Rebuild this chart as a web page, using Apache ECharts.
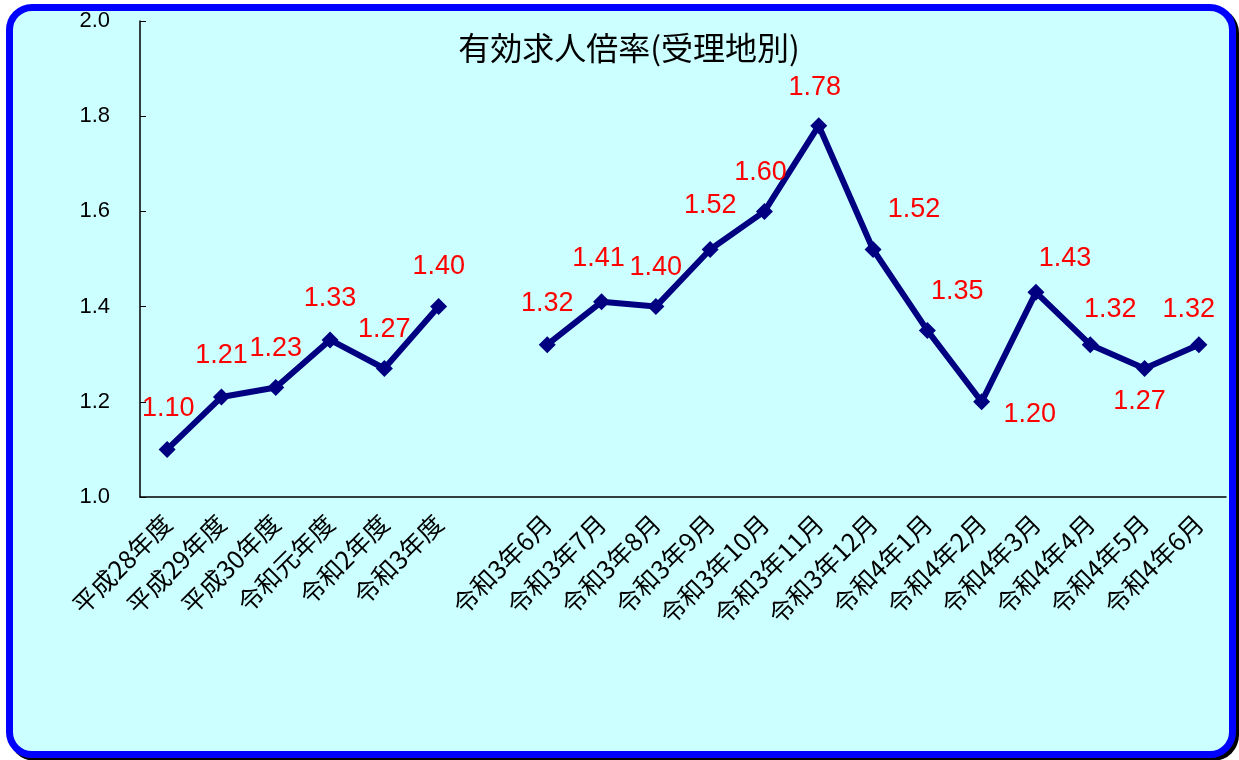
<!DOCTYPE html>
<html><head><meta charset="utf-8">
<script src="https://cdn.jsdelivr.net/npm/echarts@6/dist/echarts.min.js"></script>
<style>
html,body{margin:0;padding:0;background:#fff;}
#frame{position:absolute;left:6px;top:4px;width:1216px;height:740px;border:7px solid #0000FF;border-radius:26px;background:#CCFFFF;box-shadow:3px 3px 0 #000;}
#chart{position:absolute;left:0;top:0;width:1239px;height:760px;}
</style></head>
<body>
<div id="frame"></div>
<div id="chart"></div>
<script>
var title = '有効求人倍率(受理地別)';
var categories = ['平成28年度','平成29年度','平成30年度','令和元年度','令和2年度','令和3年度','',
  '令和3年6月','令和3年7月','令和3年8月','令和3年9月','令和3年10月','令和3年11月','令和3年12月',
  '令和4年1月','令和4年2月','令和4年3月','令和4年4月','令和4年5月','令和4年6月'];
var values = [1.10,1.21,1.23,1.33,1.27,1.40,null,1.32,1.41,1.40,1.52,1.60,1.78,1.52,1.35,1.20,1.43,1.32,1.27,1.32];
var yTicks = [1.0,1.2,1.4,1.6,1.8,2.0];
var labelOffsets = [[1,-41],[0,-41],[0,-39],[0,-41],[0,-39],[0,-40],[0,0],[0,-41],[-3,-43],[0,-39],[0,-44],[-4,-39],[-4,-38],[41,-40],[30,-39],[48,13],[29,-34],[20,-35],[-5,33],[-10,-35]];

var font = '"Liberation Sans","Noto Sans CJK JP",sans-serif';
var cjk = '"Noto Sans CJK JP","Liberation Sans",sans-serif';
var seriesData = values.map(function(v,i){
  if (v === null) return '-';
  return {value:v, label:{offset:labelOffsets[i]}};
});
var chart = echarts.init(document.getElementById('chart'));
chart.setOption({
  backgroundColor:'transparent',
  animation:false,
  title:{text:title,left:624,top:27,textAlign:'center',textStyle:{fontFamily:cjk,fontSize:32,fontWeight:'normal',color:'#000'}},
  grid:{left:140,right:13,top:21,bottom:263},
  xAxis:{type:'category',data:categories,boundaryGap:true,
    axisLine:{lineStyle:{color:'#000',width:1.5}},
    axisTick:{inside:true,length:5,lineStyle:{color:'#555'}},
    axisLabel:{rotate:45,interval:0,fontFamily:cjk,fontSize:25,color:'#000',margin:22},
    splitLine:{show:false}},
  yAxis:{type:'value',min:yTicks[0],max:yTicks[yTicks.length-1],interval:0.2,
    axisLine:{show:true,lineStyle:{color:'#000',width:1.5}},
    axisTick:{show:true,inside:true,length:6,lineStyle:{color:'#000'}},
    axisLabel:{formatter:function(v){return v.toFixed(1);},fontFamily:font,fontSize:22,color:'#000',margin:30},
    splitLine:{show:false}},
  series:[{type:'line',data:seriesData,connectNulls:false,
    lineStyle:{color:'#000080',width:6},
    itemStyle:{color:'#000080'},
    symbol:'diamond',symbolSize:17,
    label:{show:true,position:'inside',formatter:function(p){return p.value.toFixed(2);},
      fontFamily:font,fontSize:27,color:'#FF0000'}}]
});
</script>
</body></html>
